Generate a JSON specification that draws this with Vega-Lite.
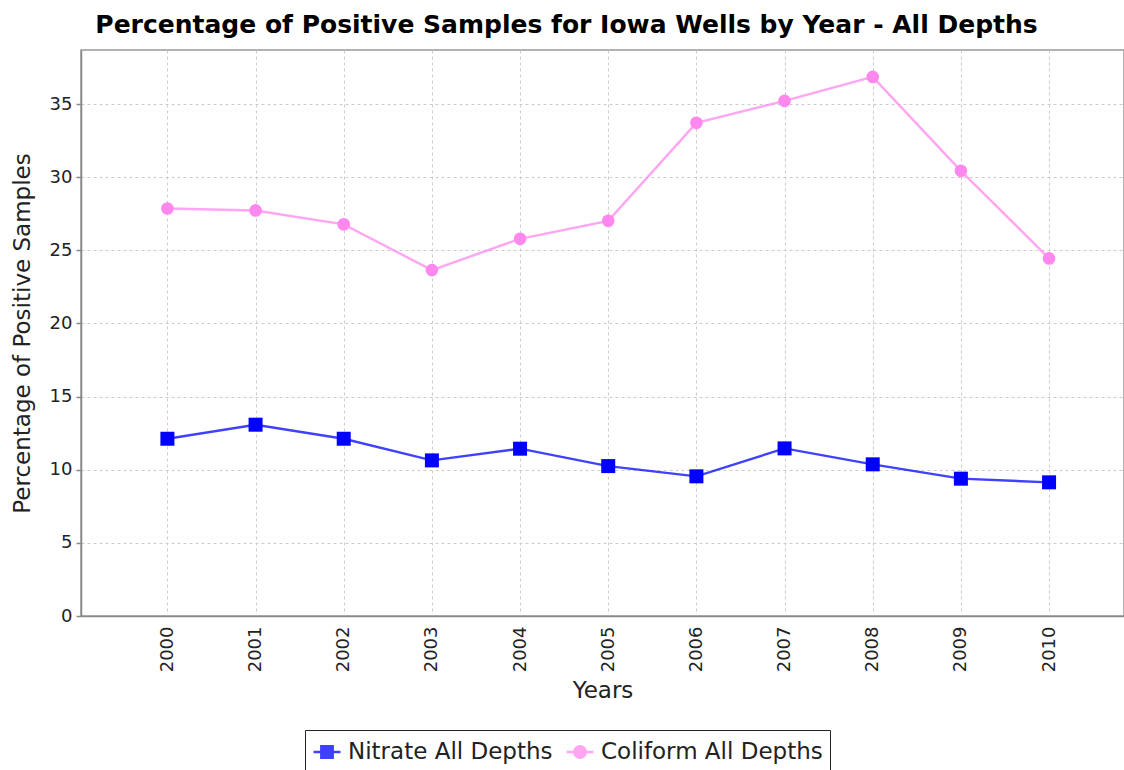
{
  "$schema": "https://vega.github.io/schema/vega-lite/v6.json",
  "width": 1043,
  "height": 566,
  "autosize": {"type": "none"},
  "padding": {"left": 81, "top": 50, "right": 0, "bottom": 154},
  "background": "white",
  "config": {
    "font": "DejaVu Sans",
    "view": {"stroke": "#999999", "strokeWidth": 1.5},
    "axis": {
      "domainColor": "#888888",
      "domainWidth": 1.5,
      "gridColor": "#cccccc",
      "gridDash": [3, 3],
      "gridWidth": 1,
      "labelColor": "#222222",
      "titleColor": "#222222",
      "labelFont": "DejaVu Sans",
      "titleFont": "DejaVu Sans",
      "titleFontWeight": "normal"
    }
  },
  "title": {
    "text": "Percentage of Positive Samples for Iowa Wells by Year - All Depths",
    "font": "DejaVu Sans",
    "fontSize": 25,
    "fontWeight": "bold",
    "color": "black",
    "anchor": "middle",
    "dx": -36,
    "offset": 12
  },
  "data": {
    "values": [
      {"year": 2000, "series": "Nitrate All Depths", "pct": 12.12},
      {"year": 2001, "series": "Nitrate All Depths", "pct": 13.08},
      {"year": 2002, "series": "Nitrate All Depths", "pct": 12.12},
      {"year": 2003, "series": "Nitrate All Depths", "pct": 10.64},
      {"year": 2004, "series": "Nitrate All Depths", "pct": 11.44},
      {"year": 2005, "series": "Nitrate All Depths", "pct": 10.25},
      {"year": 2006, "series": "Nitrate All Depths", "pct": 9.55},
      {"year": 2007, "series": "Nitrate All Depths", "pct": 11.46},
      {"year": 2008, "series": "Nitrate All Depths", "pct": 10.37},
      {"year": 2009, "series": "Nitrate All Depths", "pct": 9.39},
      {"year": 2010, "series": "Nitrate All Depths", "pct": 9.14},
      {"year": 2000, "series": "Coliform All Depths", "pct": 27.86},
      {"year": 2001, "series": "Coliform All Depths", "pct": 27.73},
      {"year": 2002, "series": "Coliform All Depths", "pct": 26.78},
      {"year": 2003, "series": "Coliform All Depths", "pct": 23.65},
      {"year": 2004, "series": "Coliform All Depths", "pct": 25.79},
      {"year": 2005, "series": "Coliform All Depths", "pct": 27.02},
      {"year": 2006, "series": "Coliform All Depths", "pct": 33.72},
      {"year": 2007, "series": "Coliform All Depths", "pct": 35.22},
      {"year": 2008, "series": "Coliform All Depths", "pct": 36.86},
      {"year": 2009, "series": "Coliform All Depths", "pct": 30.44},
      {"year": 2010, "series": "Coliform All Depths", "pct": 24.45}
    ]
  },
  "encoding": {
    "x": {
      "field": "year",
      "type": "quantitative",
      "scale": {"domain": [1999.02, 2010.85], "nice": false, "zero": false},
      "axis": {
        "title": "Years",
        "titleFontSize": 23,
        "titlePadding": 8,
        "values": [2000, 2001, 2002, 2003, 2004, 2005, 2006, 2007, 2008, 2009, 2010],
        "format": "d",
        "labelAngle": -90,
        "labelFontSize": 18,
        "labelPadding": 10,
        "ticks": false
      }
    },
    "y": {
      "field": "pct",
      "type": "quantitative",
      "scale": {"domain": [0, 38.7], "nice": false},
      "axis": {
        "title": "Percentage of Positive Samples",
        "titleFontSize": 23,
        "titlePadding": 15,
        "values": [0, 5, 10, 15, 20, 25, 30, 35],
        "labelFontSize": 18,
        "labelPadding": 4,
        "tickSize": 5,
        "tickColor": "#888888",
        "tickWidth": 1.5
      }
    },
    "color": {
      "field": "series",
      "type": "nominal",
      "sort": ["Nitrate All Depths", "Coliform All Depths"],
      "scale": {
        "domain": ["Nitrate All Depths", "Coliform All Depths"],
        "range": ["#0000ff", "#ff88ee"]
      },
      "legend": {
        "title": null,
        "orient": "none",
        "legendX": 224,
        "legendY": 680,
        "direction": "horizontal",
        "labelFontSize": 23,
        "labelColor": "#222222",
        "labelFont": "DejaVu Sans",
        "labelLimit": 500,
        "labelOffset": 6,
        "strokeColor": "#222222",
        "padding": 7,
        "columnPadding": 8,
        "symbolSize": 729,
        "symbolStrokeWidth": 2.5,
        "symbolType": {"expr": "datum.value === 'Nitrate All Depths' ? 'M-1,0H1M-0.42,-0.42H0.42V0.42H-0.42Z' : 'M-1,0H1M0.42,0A0.42,0.42,0,1,1,-0.42,0A0.42,0.42,0,1,1,0.42,0'"},
        "encode": {
          "legend": {
            "strokeWidth": {"value": 1.5}
          },
          "symbols": {
            "stroke": {
              "condition": {"test": "datum.value === 'Nitrate All Depths'", "value": "#0000ff"},
              "value": "#ff88ee"
            },
            "fill": {
              "condition": {"test": "datum.value === 'Nitrate All Depths'", "value": "#0000ff"},
              "value": "#ff88ee"
            },
            "strokeWidth": {"value": 2.5},
            "opacity": {"value": 1}
          }
        }
      }
    }
  },
  "layer": [
    {
      "mark": {"type": "line", "strokeWidth": 2.4, "opacity": 0.75}
    },
    {
      "transform": [{"filter": "datum.series === 'Nitrate All Depths'"}],
      "mark": {"type": "point", "filled": true, "opacity": 1, "shape": "square", "size": 196}
    },
    {
      "transform": [{"filter": "datum.series === 'Coliform All Depths'"}],
      "mark": {"type": "point", "filled": true, "opacity": 1, "shape": "circle", "size": 160}
    }
  ]
}
